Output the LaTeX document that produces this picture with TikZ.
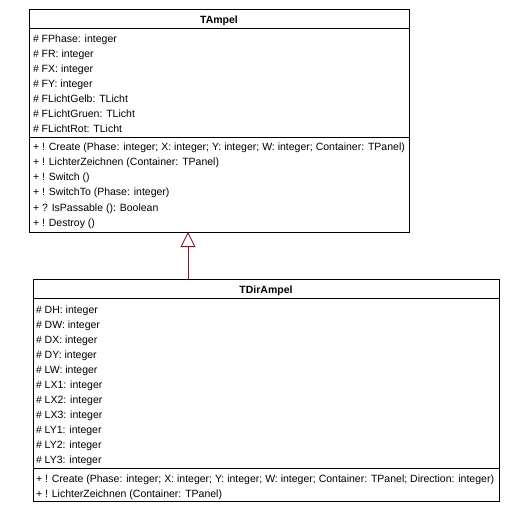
\documentclass[tikz,border=0pt]{standalone}
\usepackage{fontspec}
\setmainfont{Liberation Sans}
\usetikzlibrary{arrows.meta}
\definecolor{genred}{RGB}{140,20,40}
\begin{document}
\begin{tikzpicture}[x=1pt,y=-1pt,
  every node/.style={inner sep=0pt,outer sep=0pt},
  classbox/.style={draw=black,line width=1pt,anchor=north west,minimum width=#1},
  member/.style={anchor=base west,font=\fontsize{10.5}{12}\selectfont},
  ctitle/.style={anchor=base,font=\fontsize{10.5}{12}\selectfont\bfseries},
  sepline/.style={draw=black,line width=1pt},
  gen/.style={draw=genred,line width=0.9pt,-{Triangle[open,length=15pt,width=15pt,line width=0.9pt]}}]
\useasboundingbox (0,0) rectangle (523,527);
% TAmpel
\node[classbox=380pt,minimum height=222pt] (tampel) at (29,10) {};
\node[ctitle] (t1) at (219,23.5) {TAmpel};
\draw[sepline] (29,29) -- (409,29);
\draw[sepline] (29,137) -- (409,137);
\node[member] (a1) at (33,42) {\# FPhase: integer};
\node[member] (a2) at (33,57) {\# FR: integer};
\node[member] (a3) at (33,72) {\# FX: integer};
\node[member] (a4) at (33,87) {\# FY: integer};
\node[member] (a5) at (33,102) {\# FLichtGelb: TLicht};
\node[member] (a6) at (33,117) {\# FLichtGruen: TLicht};
\node[member] (a7) at (33,132) {\# FLichtRot: TLicht};
\node[member] (m1) at (33,150) {+ ! Create (Phase: integer; X: integer; Y: integer; W: integer; Container: TPanel)};
\node[member] (m2) at (33,165.3) {+ ! LichterZeichnen (Container: TPanel)};
\node[member] (m3) at (33,180.6) {+ ! Switch ()};
\node[member] (m4) at (33,195.9) {+ ! SwitchTo (Phase: integer)};
\node[member] (m5) at (33,211.2) {+ ? IsPassable (): Boolean};
\node[member] (m6) at (33,226.5) {+ ! Destroy ()};
% TDirAmpel
\node[classbox=466pt,minimum height=222pt] (tdir) at (33,279) {};
\node[ctitle] (t2) at (266,293) {TDirAmpel};
\draw[sepline] (33,298) -- (499,298);
\draw[sepline] (33,468) -- (499,468);
\node[member] (b1) at (36,313) {\# DH: integer};
\node[member] (b2) at (36,328) {\# DW: integer};
\node[member] (b3) at (36,343) {\# DX: integer};
\node[member] (b4) at (36,358) {\# DY: integer};
\node[member] (b5) at (36,373) {\# LW: integer};
\node[member] (b6) at (36,388) {\# LX1: integer};
\node[member] (b7) at (36,403) {\# LX2: integer};
\node[member] (b8) at (36,418) {\# LX3: integer};
\node[member] (b9) at (36,433) {\# LY1: integer};
\node[member] (b10) at (36,448) {\# LY2: integer};
\node[member] (b11) at (36,463) {\# LY3: integer};
\node[member] (n1) at (36,482) {+ ! Create (Phase: integer; X: integer; Y: integer; W: integer; Container: TPanel; Direction: integer)};
\node[member] (n2) at (36,497) {+ ! LichterZeichnen (Container: TPanel)};
% generalization
\coordinate (gx) at (188,0);
\draw[gen] (tdir.north -| gx) -- (tampel.south -| gx);
\end{tikzpicture}
\end{document}
